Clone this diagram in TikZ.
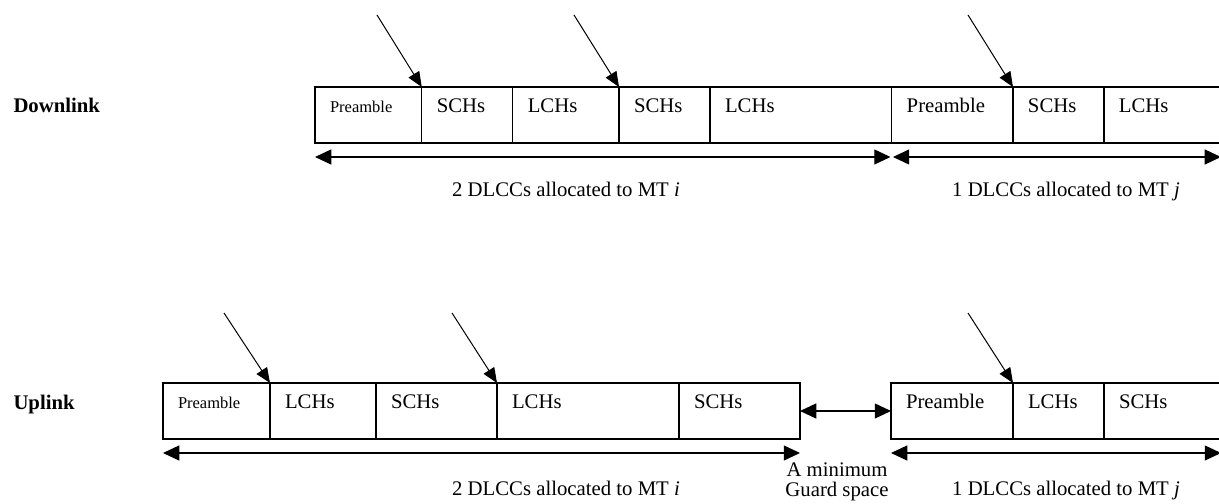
\documentclass[tikz,border=0pt]{standalone}
\usepackage{fontspec}
\setmainfont{Liberation Serif}
\usetikzlibrary{positioning,arrows.meta}

\begin{document}
\begin{tikzpicture}[x=0.4pt, y=-0.4pt, every node/.style={font=\fontsize{8.3pt}{8pt}\selectfont},
    seg/.style={draw, line width=0.5pt, anchor=north west, outer sep=0pt, inner xsep=6pt, inner ysep=0pt,
        text width=#1, align=left, text height=10.4pt, text depth=12pt},
    smalltxt/.style={font=\fontsize{6.6pt}{8pt}\selectfont},
    rowlabel/.style={font=\fontsize{8.3pt}{8pt}\selectfont\bfseries, anchor=base west, inner sep=0pt},
    ptr/.style={-{Triangle[length=6pt,width=5pt]}, line width=0.4pt},
    span/.style={{Triangle[length=6.5pt,width=6pt]}-{Triangle[length=6.5pt,width=6pt]}, line width=0.5pt}]
    \useasboundingbox (0,0) rectangle (1219,504);
    % Downlink
    \node[rowlabel] (dlab) at (13,113) {Downlink};
    \node[seg=30.7pt, smalltxt] (dP1) at (315,87) {Preamble};
    \node[seg=24.4pt, right=0pt of dP1] (dS1) {SCHs};
    \node[seg=30.5pt, right=0pt of dS1] (dL1) {LCHs};
    \node[seg=24.4pt, right=0pt of dL1] (dS2) {SCHs};
    \node[seg=60.7pt, right=0pt of dS2] (dL2) {LCHs};
    \node[seg=36.5pt] (dP2) at (891.7,87) {Preamble};
    \node[seg=24.4pt, right=0pt of dP2] (dS3) {SCHs};
    \node[seg=34.8pt, right=0pt of dS3] (dL3) {LCHs};
    % Pointers
    \coordinate (dA1) at (377,15);
    \coordinate (dA2) at (574,15);
    \coordinate (dA3) at (968,15);
    \draw[ptr] (dA1) -- (dS1.north west);
    \draw[ptr] (dA2) -- (dS2.north west);
    \draw[ptr] (dA3) -- (dS3.north west);
    % Allocations
    \draw[span] ([yshift=-5.6pt]dP1.south west) -- ([xshift=-0.5pt, yshift=-5.6pt]dL2.south east);
    \draw[span] ([xshift=0.5pt, yshift=-5.6pt]dP2.south west) -- ([yshift=-5.6pt]dL3.south east);
    \node[anchor=base] (dTi) at (566,197) {2 DLCCs allocated to MT \textit{i}};
    \node[anchor=base] (dTj) at (1066,197) {1 DLCCs allocated to MT \textit{j}};

    % Uplink
    \node[rowlabel] (ulab) at (13,410) {Uplink};
    \node[seg=30.8pt, smalltxt] (uP1) at (163,383) {Preamble};
    \node[seg=30.4pt, right=0pt of uP1] (uL1) {LCHs};
    \node[seg=36.4pt, right=0pt of uL1] (uS1) {SCHs};
    \node[seg=60.8pt, right=0pt of uS1] (uL2) {LCHs};
    \node[seg=36.4pt, right=0pt of uL2] (uS2) {SCHs};
    \node[seg=36.8pt] (uP2) at (891,383) {Preamble};
    \node[seg=24.4pt, right=0pt of uP2] (uL3) {LCHs};
    \node[seg=34.8pt, right=0pt of uL3] (uS3) {SCHs};
    % Pointers
    \coordinate (uA1) at (224,313);
    \coordinate (uA2) at (452,313);
    \coordinate (uA3) at (968,313);
    \draw[ptr] (uA1) -- (uL1.north west);
    \draw[ptr] (uA2) -- (uL2.north west);
    \draw[ptr] (uA3) -- (uL3.north west);
    % Allocations and guard
    \draw[span] ([yshift=-5.6pt]uP1.south west) -- ([yshift=-5.6pt]uS2.south east);
    \draw[span] (uS2.east) -- (uP2.west);
    \draw[span] ([yshift=-5.6pt]uP2.south west) -- ([yshift=-5.6pt]uS3.south east);
    \node[anchor=base] (uTi) at (566,496) {2 DLCCs allocated to MT \textit{i}};
    \node[anchor=base] (uTj) at (1066,496) {1 DLCCs allocated to MT \textit{j}};
    \node[align=center] (guard) at (837,482) {A minimum\\Guard space};
\end{tikzpicture}
\end{document}
